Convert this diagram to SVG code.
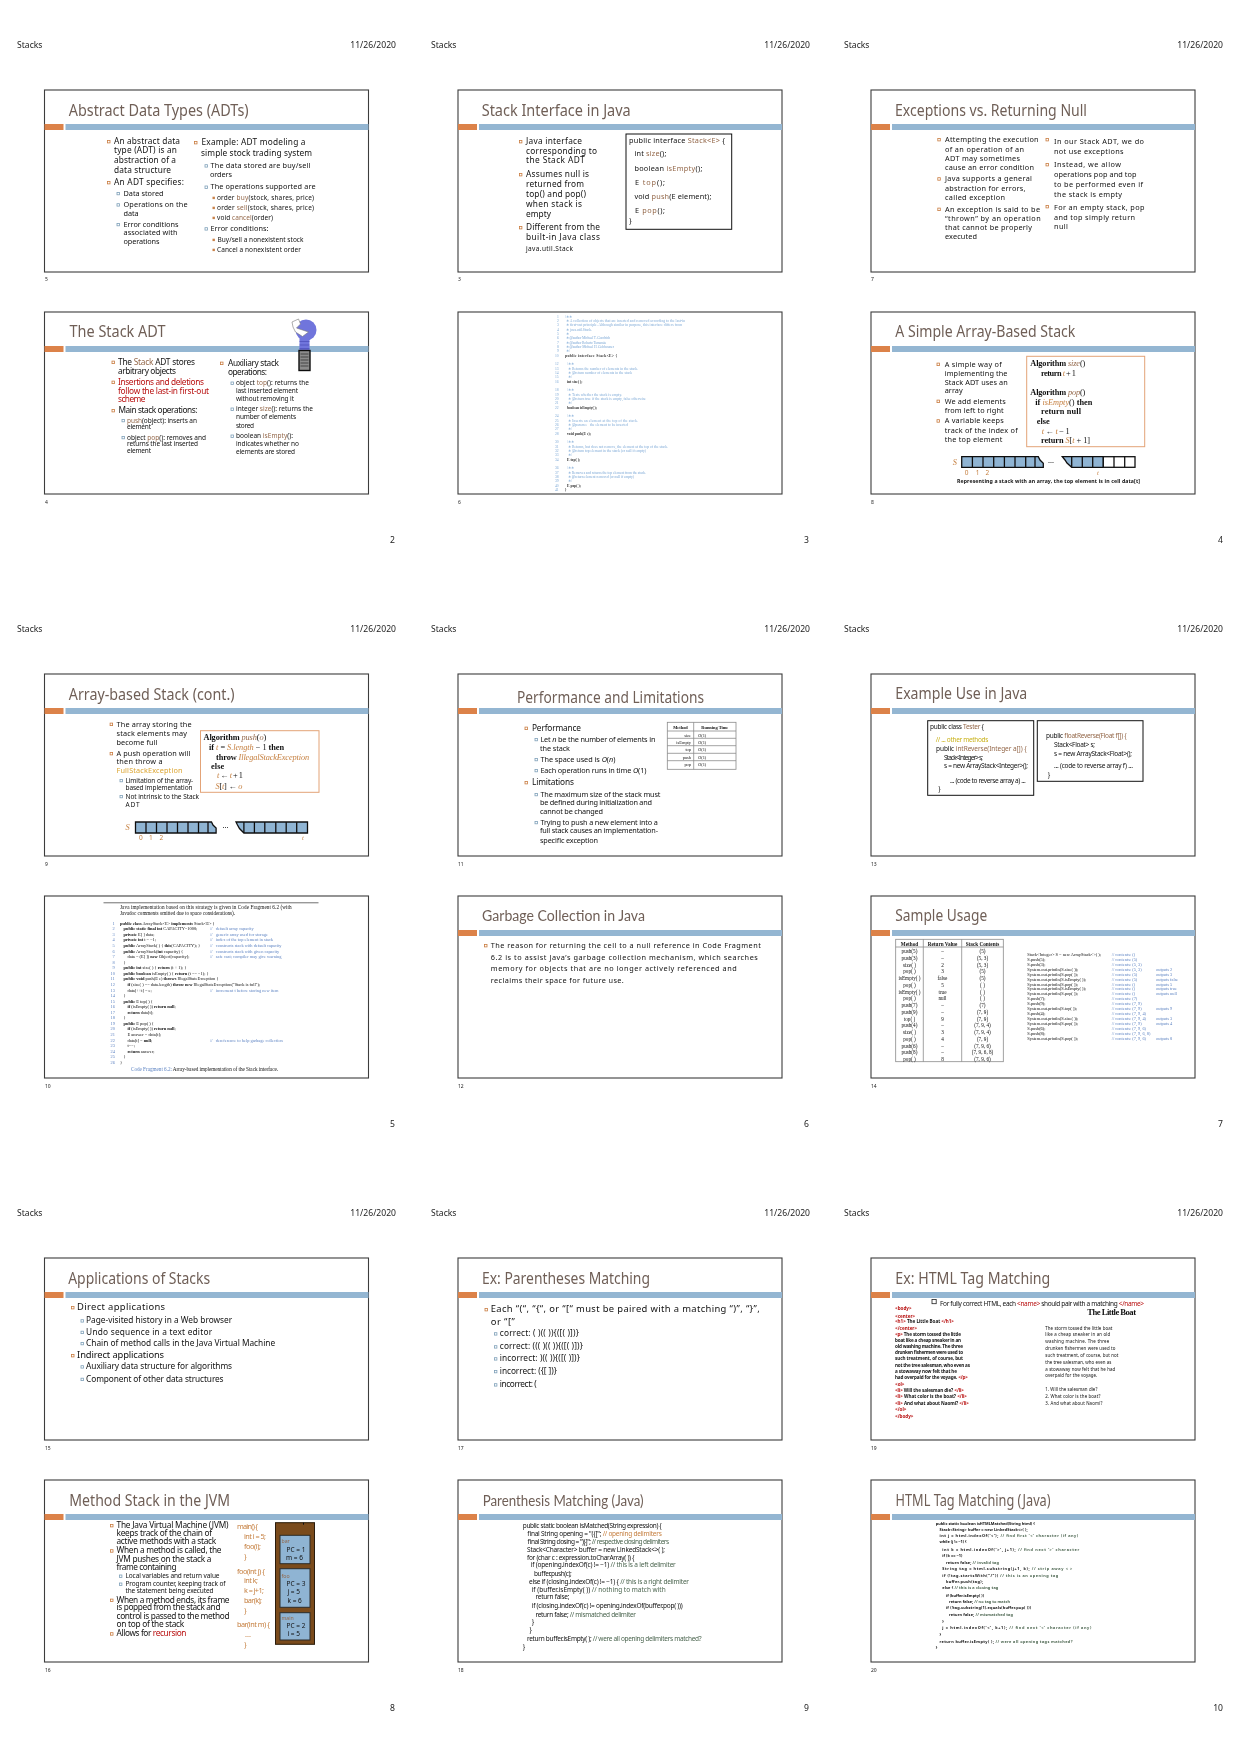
<svg xmlns="http://www.w3.org/2000/svg" width="1240" height="1753" viewBox="0 0 1240 1753">
<style>
text{font-family:"Noto Sans","DejaVu Sans",sans-serif;fill:#111;white-space:pre}
.h{font-size:8.6px;fill:#222}
.n{font-size:5px;fill:#222}
.frame{fill:#fff;stroke:#3c3c3c;stroke-width:1.1}
.t{font-size:16px;fill:#6f5f57}
.t.g{font-family:"Lato","Noto Sans",sans-serif;font-size:14.5px}
.f9{font-size:9.4px}.f8{font-size:8.3px}.f7{font-size:7.3px}.f6{font-size:6.5px}.f5{font-size:5.2px}.f45{font-size:4.6px}.f4{font-size:4.4px}.f3{font-size:3.9px}
.s{font-family:"Liberation Serif",serif}
.m{font-size:3.7px;font-family:"Liberation Serif",serif;fill:#7ea9d6}
.k{fill:#333;font-weight:700}
.b{fill:#5d83c2}
.c{fill:#94684a}
.o{fill:#c57f3f}
.y{fill:#dca531}
.r{fill:#b80f0f}
.gr{fill:#4c6650}
.bo{font-weight:700}
.i{font-style:italic}
.box{fill:#fff;stroke:#111;stroke-width:1}
.obox{fill:#fff;stroke:#e3a377;stroke-width:1}
.cell{fill:#8fb4d3;stroke:#111;stroke-width:1.3}
.wc{fill:#fff;stroke:#111;stroke-width:1.3}
.tb{fill:none;stroke:#8a8a8a;stroke-width:.8}
.fr{fill:#8fb4d3;stroke:#2b2b2b;stroke-width:1}
</style>
<defs>
<filter id="soft" x="0" y="0" width="100%" height="100%"><feGaussianBlur stdDeviation="0.28"/></filter>
<filter id="soft2" x="-5%" y="-5%" width="110%" height="110%"><feGaussianBlur stdDeviation="0.5"/></filter>
<g id="bars"><rect x="0" y="34" width="19" height="6" fill="#dc8249"/><rect x="21" y="34" width="303" height="6" fill="#94b6d2"/></g>
<rect id="b1" x="0" y="-3.6" width="2.5" height="2.5" fill="none" stroke="#c97c40" stroke-width=".8"/>
<rect id="b2" x="0" y="-3.3" width="2.4" height="2.4" fill="none" stroke="#7d9fb8" stroke-width=".8"/>
<rect id="b3" x="0" y="-3" width="2.4" height="2.4" fill="#c9824a"/>
</defs>
<rect width="1240" height="1753" fill="#fff"/>
<g filter="url(#soft)">
<g id="page-headers">
<text class="h" x="17" y="48">Stacks</text><text class="h" x="396" y="48" text-anchor="end">11/26/2020</text>
<text class="h" x="431" y="48">Stacks</text><text class="h" x="810" y="48" text-anchor="end">11/26/2020</text>
<text class="h" x="844" y="48">Stacks</text><text class="h" x="1223" y="48" text-anchor="end">11/26/2020</text>
<text class="h" x="17" y="632">Stacks</text><text class="h" x="396" y="632" text-anchor="end">11/26/2020</text>
<text class="h" x="431" y="632">Stacks</text><text class="h" x="810" y="632" text-anchor="end">11/26/2020</text>
<text class="h" x="844" y="632">Stacks</text><text class="h" x="1223" y="632" text-anchor="end">11/26/2020</text>
<text class="h" x="17" y="1216">Stacks</text><text class="h" x="396" y="1216" text-anchor="end">11/26/2020</text>
<text class="h" x="431" y="1216">Stacks</text><text class="h" x="810" y="1216" text-anchor="end">11/26/2020</text>
<text class="h" x="844" y="1216">Stacks</text><text class="h" x="1223" y="1216" text-anchor="end">11/26/2020</text>
<text class="h" x="395" y="543" text-anchor="end">2</text><text class="h" x="809" y="543" text-anchor="end">3</text><text class="h" x="1223" y="543" text-anchor="end">4</text>
<text class="h" x="395" y="1127" text-anchor="end">5</text><text class="h" x="809" y="1127" text-anchor="end">6</text><text class="h" x="1223" y="1127" text-anchor="end">7</text>
<text class="h" x="395" y="1711" text-anchor="end">8</text><text class="h" x="809" y="1711" text-anchor="end">9</text><text class="h" x="1223" y="1711" text-anchor="end">10</text>
</g>
<g id="slide-numbers">
<text class="n" x="45" y="281">5</text><text class="n" x="458" y="281">3</text><text class="n" x="871" y="281">7</text>
<text class="n" x="45" y="503.5">4</text><text class="n" x="458" y="503.5">6</text><text class="n" x="871" y="503.5">8</text>
<text class="n" x="45" y="865.5">9</text><text class="n" x="458" y="865.5">11</text><text class="n" x="871" y="865.5">13</text>
<text class="n" x="45" y="1087.5">10</text><text class="n" x="458" y="1087.5">12</text><text class="n" x="871" y="1087.5">14</text>
<text class="n" x="45" y="1449.5">15</text><text class="n" x="458" y="1449.5">17</text><text class="n" x="871" y="1449.5">19</text>
<text class="n" x="45" y="1671.5">16</text><text class="n" x="458" y="1671.5">18</text><text class="n" x="871" y="1671.5">20</text>
</g>

<g id="slide-adt" transform="translate(44.5 90)">
<rect class="frame" width="324" height="182"/><use href="#bars"/>
<text class="t" x="24.2" y="26" textLength="180" lengthAdjust="spacingAndGlyphs">Abstract Data Types (ADTs)</text>
<use href="#b1" x="63" y="54"/>
<text class="f8" x="69.5" y="54" textLength="66">An abstract data</text>
<text class="f8" x="69.5" y="63.3" textLength="63">type (ADT) is an</text>
<text class="f8" x="69.5" y="73" textLength="62">abstraction of a</text>
<text class="f8" x="69.5" y="82.7" textLength="57">data structure</text>
<use href="#b1" x="63" y="95"/>
<text class="f8" x="69.5" y="95" textLength="70">An ADT specifies:</text>
<use href="#b2" x="72.5" y="105.7"/><text class="f7" x="79" y="105.7" textLength="40">Data stored</text>
<use href="#b2" x="72.5" y="117"/><text class="f7" x="79" y="117" textLength="64">Operations on the</text>
<text class="f7" x="79" y="125.7" textLength="15">data</text>
<use href="#b2" x="72.5" y="136.7"/><text class="f7" x="79" y="136.7" textLength="55">Error conditions</text>
<text class="f7" x="79" y="145" textLength="54">associated with</text>
<text class="f7" x="79" y="154" textLength="36">operations</text>
<use href="#b1" x="150" y="55"/>
<text class="f8" x="157" y="54.7" textLength="104">Example: ADT modeling a</text>
<text class="f8" x="156.5" y="65.7" textLength="111">simple stock trading system</text>
<use href="#b2" x="160.5" y="78"/><text class="f7" x="166" y="78" textLength="100">The data stored are buy/sell</text>
<text class="f7" x="165.5" y="87" textLength="22">orders</text>
<use href="#b2" x="160.5" y="99.3"/><text class="f7" x="166" y="99.3" textLength="105">The operations supported are</text>
<use href="#b3" x="168" y="109.7"/><text class="f6" x="172.5" y="109.7" textLength="97">order <tspan class="c">buy</tspan>(stock, shares, price)</text>
<use href="#b3" x="168" y="119.7"/><text class="f6" x="172.5" y="119.7" textLength="97">order <tspan class="c">sell</tspan>(stock, shares, price)</text>
<use href="#b3" x="168" y="129.7"/><text class="f6" x="172.5" y="129.7" textLength="56">void <tspan class="c">cancel</tspan>(order)</text>
<use href="#b2" x="160.5" y="141"/><text class="f7" x="166" y="141" textLength="58">Error conditions:</text>
<use href="#b3" x="168" y="151.7"/><text class="f6" x="173" y="151.7" textLength="86">Buy/sell a nonexistent stock</text>
<use href="#b3" x="168" y="161.7"/><text class="f6" x="172.5" y="161.7" textLength="84">Cancel a nonexistent order</text>
</g>

<g id="slide-interface" transform="translate(458 90)">
<rect class="frame" width="324" height="182"/><use href="#bars"/>
<text class="t" x="23.7" y="25.5" textLength="149" lengthAdjust="spacingAndGlyphs">Stack Interface in Java</text>
<use href="#b1" x="61.4" y="54"/>
<text class="f8" x="68" y="54" textLength="56">Java interface</text>
<text class="f8" x="68" y="63.7" textLength="71">corresponding to</text>
<text class="f8" x="68" y="73.3" textLength="58.6">the Stack ADT</text>
<use href="#b1" x="61.4" y="87"/>
<text class="f8" x="68" y="87" textLength="63">Assumes null is</text>
<text class="f8" x="68" y="96.7" textLength="58">returned from</text>
<text class="f8" x="68" y="106.7" textLength="60">top() and pop()</text>
<text class="f8" x="68" y="116.7" textLength="56">when stack is</text>
<text class="f8" x="68" y="126.7" textLength="25">empty</text>
<use href="#b1" x="61.4" y="140"/>
<text class="f8" x="68" y="140" textLength="74">Different from the</text>
<text class="f8" x="68" y="150.3" textLength="74">built-in Java class</text>
<text class="f6" x="68" y="160.7" textLength="47">java.util.Stack</text>
<rect class="box" x="168" y="44" width="105.7" height="95.3"/>
<text class="f7" x="171" y="52.7" textLength="96">public interface <tspan class="c">Stack&lt;E&gt;</tspan> {</text>
<text class="f7" x="176.4" y="66" textLength="32">int <tspan class="c">size</tspan>();</text>
<text class="f7" x="176.4" y="80.7" textLength="68">boolean <tspan class="c">isEmpty</tspan>();</text>
<text class="f7" x="177" y="94.7" textLength="30">E <tspan class="c">top</tspan>();</text>
<text class="f7" x="176.4" y="108.7" textLength="77">void <tspan class="c">push</tspan>(E element);</text>
<text class="f7" x="177" y="123" textLength="30">E <tspan class="c">pop</tspan>();</text>
<text class="f7" x="171" y="133">}</text>
</g>

<g id="slide-exceptions" transform="translate(871 90)">
<rect class="frame" width="324" height="182"/><use href="#bars"/>
<text class="t" x="24" y="25.5" textLength="192" lengthAdjust="spacingAndGlyphs">Exceptions vs. Returning Null</text>
<use href="#b1" x="66.8" y="52"/>
<text class="f7" x="74" y="52" textLength="93.6">Attempting the execution</text>
<text class="f7" x="74" y="61.7" textLength="79">of an operation of an</text>
<text class="f7" x="74" y="70.7" textLength="75">ADT may sometimes</text>
<text class="f7" x="74" y="79.7" textLength="89">cause an error condition</text>
<use href="#b1" x="66.8" y="91.3"/>
<text class="f7" x="74" y="91.3" textLength="87">Java supports a general</text>
<text class="f7" x="74" y="101" textLength="80.5">abstraction for errors,</text>
<text class="f7" x="74" y="110" textLength="60">called exception</text>
<use href="#b1" x="66.8" y="121.7"/>
<text class="f7" x="74" y="121.7" textLength="95">An exception is said to be</text>
<text class="f7" x="74" y="131" textLength="95.7">“thrown” by an operation</text>
<text class="f7" x="74" y="140.3" textLength="87">that cannot be properly</text>
<text class="f7" x="74" y="148.7" textLength="32">executed</text>
<use href="#b1" x="175" y="52"/>
<text class="f7" x="183" y="53.7" textLength="90">In our Stack ADT, we do</text>
<text class="f7" x="183" y="63.7" textLength="69.5">not use exceptions</text>
<use href="#b1" x="175" y="77"/>
<text class="f7" x="183" y="77" textLength="67">Instead, we allow</text>
<text class="f7" x="183" y="87" textLength="82.6">operations pop and top</text>
<text class="f7" x="183" y="96.7" textLength="89">to be performed even if</text>
<text class="f7" x="183" y="106.7" textLength="68">the stack is empty</text>
<use href="#b1" x="175" y="119"/>
<text class="f7" x="183" y="119.7" textLength="90.5">For an empty stack, pop</text>
<text class="f7" x="183" y="129.7" textLength="81">and top simply return</text>
<text class="f7" x="183" y="139.3" textLength="14">null</text>
</g>

<g id="slide-stack-adt" transform="translate(44.5 312)">
<rect class="frame" width="324" height="182"/><use href="#bars"/>
<g id="pez-dispenser">
<ellipse cx="261.5" cy="18" rx="10.5" ry="10.5" fill="#6f74dc"/>
<path d="M247.5 10L254 7L256 12L252 16L264 20L258 24.5L251 20L248.5 15Z" fill="#fff" stroke="#777" stroke-width=".6"/>
<rect x="255" y="26" width="10" height="12.5" fill="#6f74dc"/>
<path d="M255 29.5H265M255 33H265M255 36.5H265" stroke="#4347b0" stroke-width=".6"/>
<rect x="254.5" y="38.5" width="11" height="20" fill="#8c8c8c" stroke="#111" stroke-width="1.4"/>
<path d="M256 42H264M256 45H264M256 48H264M256 51H264M256 54H264" stroke="#333" stroke-width=".8"/>
</g>
<text class="t" x="25" y="25" textLength="96" lengthAdjust="spacingAndGlyphs">The Stack ADT</text>
<use href="#b1" x="67.5" y="52.7"/>
<text class="f8" x="73.5" y="52.7" textLength="77">The <tspan class="c">Stack</tspan> ADT stores</text>
<text class="f8" x="73.5" y="61.7" textLength="58">arbitrary objects</text>
<use href="#b1" x="67.5" y="72.7"/>
<text class="f8 r" x="73.5" y="72.7" textLength="86">Insertions and deletions</text>
<text class="f8 r" x="73.5" y="81.7" textLength="91">follow the last-in first-out</text>
<text class="f8 r" x="73.5" y="89.7" textLength="27.5">scheme</text>
<use href="#b1" x="67.5" y="101"/>
<text class="f8" x="74" y="101" textLength="79">Main stack operations:</text>
<use href="#b2" x="77.5" y="110.7"/><text class="f6" x="82.5" y="110.7" textLength="70"><tspan class="c">push</tspan>(object): inserts an</text>
<text class="f6" x="82.5" y="117.3" textLength="24">element</text>
<use href="#b2" x="77.5" y="127.7"/><text class="f6" x="82.5" y="127.7" textLength="79">object <tspan class="c">pop</tspan>(): removes and</text>
<text class="f6" x="82.5" y="134.3" textLength="71">returns the last inserted</text>
<text class="f6" x="82.5" y="141.3" textLength="24">element</text>
<use href="#b1" x="176" y="53.7"/>
<text class="f8" x="183.5" y="53.7" textLength="51">Auxiliary stack</text>
<text class="f8" x="183.5" y="63.3" textLength="39">operations:</text>
<use href="#b2" x="186.5" y="73.3"/><text class="f6" x="191.5" y="73.3" textLength="73">object <tspan class="c">top</tspan>(): returns the</text>
<text class="f6" x="191.5" y="81.3" textLength="62">last inserted element</text>
<text class="f6" x="191.5" y="89.3" textLength="58">without removing it</text>
<use href="#b2" x="186.5" y="99.3"/><text class="f6" x="191.5" y="99.3" textLength="77">integer <tspan class="c">size</tspan>(): returns the</text>
<text class="f6" x="191.5" y="107.3" textLength="60">number of elements</text>
<text class="f6" x="191.5" y="116.3" textLength="18">stored</text>
<use href="#b2" x="186.5" y="126.3"/><text class="f6" x="191.5" y="126.3" textLength="57">boolean <tspan class="c">isEmpty</tspan>():</text>
<text class="f6" x="191.5" y="134.3" textLength="63">indicates whether no</text>
<text class="f6" x="191.5" y="142.3" textLength="59">elements are stored</text>
</g>

<g id="slide-interface-code" transform="translate(458 312)">
<rect class="frame" width="324" height="182"/>
<g filter="url(#soft2)">
<g id="iface-lines">
<text class="m" x="99" y="5.5">1</text><text class="m" x="107" y="5.5">/∗∗</text>
<text class="m" x="99" y="9.8">2</text><text class="m" x="108" y="9.8" textLength="119">∗ A collection of objects that are inserted and removed according to the last-in</text>
<text class="m" x="99" y="14.2">3</text><text class="m" x="108" y="14.2" textLength="116">∗ first-out principle. Although similar in purpose, this interface differs from</text>
<text class="m" x="99" y="18.5">4</text><text class="m" x="108" y="18.5">∗ java.util.Stack.</text>
<text class="m" x="99" y="22.8">5</text><text class="m" x="108" y="22.8">∗</text>
<text class="m" x="99" y="27.2">6</text><text class="m" x="108" y="27.2" textLength="44">∗ @author Michael T. Goodrich</text>
<text class="m" x="99" y="31.5">7</text><text class="m" x="108" y="31.5" textLength="40">∗ @author Roberto Tamassia</text>
<text class="m" x="99" y="35.8">8</text><text class="m" x="108" y="35.8" textLength="48">∗ @author Michael H. Goldwasser</text>
<text class="m" x="99" y="40.2">9</text><text class="m" x="108" y="40.2">∗/</text>
<text class="m" x="97" y="44.5">10</text><text class="m k" x="107" y="44.5" textLength="52">public interface Stack&lt;E&gt; {</text>
<text class="m" x="97" y="53.2">12</text><text class="m" x="109" y="53.2">/∗∗</text>
<text class="m" x="97" y="57.5">13</text><text class="m" x="110" y="57.5" textLength="70">∗ Returns the number of elements in the stack.</text>
<text class="m" x="97" y="61.8">14</text><text class="m" x="110" y="61.8" textLength="64">∗ @return number of elements in the stack</text>
<text class="m" x="97" y="66.2">15</text><text class="m" x="110" y="66.2">∗/</text>
<text class="m" x="97" y="70.5">16</text><text class="m k" x="109" y="70.5">int size( );</text>
<text class="m" x="97" y="79.2">18</text><text class="m" x="109" y="79.2">/∗∗</text>
<text class="m" x="97" y="83.5">19</text><text class="m" x="110" y="83.5" textLength="54">∗ Tests whether the stack is empty.</text>
<text class="m" x="97" y="87.8">20</text><text class="m" x="110" y="87.8" textLength="78">∗ @return true if the stack is empty, false otherwise</text>
<text class="m" x="97" y="92.2">21</text><text class="m" x="110" y="92.2">∗/</text>
<text class="m" x="97" y="96.5">22</text><text class="m k" x="109" y="96.5" textLength="30">boolean isEmpty( );</text>
<text class="m" x="97" y="105.2">24</text><text class="m" x="109" y="105.2">/∗∗</text>
<text class="m" x="97" y="109.5">25</text><text class="m" x="110" y="109.5" textLength="70">∗ Inserts an element at the top of the stack.</text>
<text class="m" x="97" y="113.8">26</text><text class="m" x="110" y="113.8" textLength="60">∗ @param e   the element to be inserted</text>
<text class="m" x="97" y="118.2">27</text><text class="m" x="110" y="118.2">∗/</text>
<text class="m" x="97" y="122.5">28</text><text class="m k" x="109" y="122.5">void push(E e);</text>
<text class="m" x="97" y="131.2">30</text><text class="m" x="109" y="131.2">/∗∗</text>
<text class="m" x="97" y="135.5">31</text><text class="m" x="110" y="135.5" textLength="100">∗ Returns, but does not remove, the element at the top of the stack.</text>
<text class="m" x="97" y="139.8">32</text><text class="m" x="110" y="139.8" textLength="78">∗ @return top element in the stack (or null if empty)</text>
<text class="m" x="97" y="144.2">33</text><text class="m" x="110" y="144.2">∗/</text>
<text class="m" x="97" y="148.5">34</text><text class="m k" x="109" y="148.5">E top( );</text>
<text class="m" x="97" y="157.2">36</text><text class="m" x="109" y="157.2">/∗∗</text>
<text class="m" x="97" y="161.5">37</text><text class="m" x="110" y="161.5" textLength="78">∗ Removes and returns the top element from the stack.</text>
<text class="m" x="97" y="165.8">38</text><text class="m" x="110" y="165.8" textLength="66">∗ @return element removed (or null if empty)</text>
<text class="m" x="97" y="170.2">39</text><text class="m" x="110" y="170.2">∗/</text>
<text class="m" x="97" y="174.5">40</text><text class="m k" x="109" y="174.5">E pop( );</text>
<text class="m" x="97" y="178.8">41</text><text class="m k" x="107" y="178.8">}</text>
</g>
</g>
</g>

<g id="slide-array-stack" transform="translate(871 312)">
<rect class="frame" width="324" height="182"/><use href="#bars"/>
<text class="t" x="24.3" y="24.5" textLength="180" lengthAdjust="spacingAndGlyphs">A Simple Array-Based Stack</text>
<use href="#b1" x="66" y="54.7"/>
<text class="f7" x="73.7" y="54.7" textLength="57">A simple way of</text>
<text class="f7" x="73.7" y="64" textLength="62.7">implementing the</text>
<text class="f7" x="73.7" y="72.7" textLength="63">Stack ADT uses an</text>
<text class="f7" x="73.7" y="81.3" textLength="18">array</text>
<use href="#b1" x="66" y="91.7"/>
<text class="f7" x="73.7" y="91.7" textLength="61">We add elements</text>
<text class="f7" x="73.7" y="100.7" textLength="59">from left to right</text>
<use href="#b1" x="66" y="111.3"/>
<text class="f7" x="73.7" y="111.3" textLength="59">A variable keeps</text>
<text class="f7" x="73.7" y="120.7" textLength="73">track of the index of</text>
<text class="f7" x="73.7" y="129.7" textLength="57.7">the top element</text>
<rect class="obox" x="155.7" y="44.3" width="118" height="90.4"/>
<text class="f8 s" x="159.3" y="53.7" textLength="55"><tspan class="bo">Algorithm</tspan> <tspan class="i c">size</tspan>()</text>
<text class="f8 s" x="170" y="63.7" textLength="35"><tspan class="bo">return</tspan> <tspan class="i o">t</tspan> + 1</text>
<text class="f8 s" x="159.3" y="82.7" textLength="55"><tspan class="bo">Algorithm</tspan> <tspan class="i c">pop</tspan>()</text>
<text class="f8 s" x="164.3" y="92.7" textLength="57"><tspan class="bo">if</tspan> <tspan class="i o">isEmpty</tspan>() <tspan class="bo">then</tspan></text>
<text class="f8 s" x="170" y="102" textLength="40"><tspan class="bo">return null</tspan></text>
<text class="f8 s bo" x="165.7" y="112" textLength="13">else</text>
<text class="f8 s" x="170.7" y="121.7" textLength="28"><tspan class="i o">t</tspan> ← <tspan class="i o">t</tspan> − 1</text>
<text class="f8 s" x="170" y="131.3" textLength="49"><tspan class="bo">return</tspan> <tspan class="i o">S</tspan>[<tspan class="i o">t</tspan> + 1]</text>
<text class="f8 o i s" x="81.7" y="153">S</text>
<path class="cell" d="M90.7 144.7H167.3L169 148L172.3 151.3V155.3H90.7Z"/>
<path class="cell" d="M101.4 144.7V155.3M112 144.7V155.3M122.7 144.7V155.3M133.4 144.7V155.3M144 144.7V155.3M154.7 144.7V155.3M164 144.7V155.3"/>
<text class="f7" x="177" y="151">...</text>
<path class="cell" d="M191.3 144.7H232.3V155.3H200.7L196 151L194 148Z"/>
<rect class="wc" x="232.3" y="144.7" width="31.7" height="10.6"/>
<path class="cell" d="M200.7 144.7V155.3M211.3 144.7V155.3M221.7 144.7V155.3M243 144.7V155.3M253.7 144.7V155.3"/>
<text class="f6 o" x="93.7" y="163">0</text><text class="f6 o" x="104.7" y="163">1</text><text class="f6 o" x="114.5" y="163">2</text><text class="f6 o i s" x="226" y="163">t</text>
<text class="f5 bo" x="86" y="170.7" textLength="183">Representing a stack with an array, the top element is in cell data[t]</text>
</g>

<g id="slide-array-cont" transform="translate(44.5 674)">
<rect class="frame" width="324" height="182"/><use href="#bars"/>
<text class="t" x="24.3" y="26" textLength="165.7" lengthAdjust="spacingAndGlyphs">Array-based Stack (cont.)</text>
<use href="#b1" x="65.6" y="52.7"/>
<text class="f7" x="72" y="52.7" textLength="75">The array storing the</text>
<text class="f7" x="72" y="62" textLength="70.6">stack elements may</text>
<text class="f7" x="72" y="70.7" textLength="41">become full</text>
<use href="#b1" x="65.6" y="82"/>
<text class="f7" x="72" y="82" textLength="74">A push operation will</text>
<text class="f7" x="72" y="90" textLength="46">then throw a</text>
<text class="f7 y" x="72" y="98.7" textLength="66">FullStackException</text>
<use href="#b2" x="75.5" y="108.7"/><text class="f6" x="81" y="108.7" textLength="67.7">Limitation of the array-</text>
<text class="f6" x="81" y="115.7" textLength="67">based implementation</text>
<use href="#b2" x="75.5" y="124.7"/><text class="f6" x="81" y="124.7" textLength="73.6">Not intrinsic to the Stack</text>
<text class="f6" x="81" y="132.7" textLength="14">ADT</text>
<rect class="obox" x="156" y="56.7" width="118.5" height="61.6"/>
<text class="f8 s" x="159" y="66" textLength="62.7"><tspan class="bo">Algorithm</tspan> <tspan class="i c">push</tspan>(<tspan class="i c">o</tspan>)</text>
<text class="f8 s" x="164.6" y="75.7" textLength="75"><tspan class="bo">if</tspan> <tspan class="i o">t</tspan> = <tspan class="i o">S.length</tspan> − 1 <tspan class="bo">then</tspan></text>
<text class="f8 s" x="171.6" y="85.7" textLength="93"><tspan class="bo">throw</tspan> <tspan class="i o">IllegalStackException</tspan></text>
<text class="f8 s bo" x="166.6" y="94.7" textLength="13">else</text>
<text class="f8 s" x="172.5" y="104.3" textLength="26"><tspan class="i o">t</tspan> ← <tspan class="i o">t</tspan> + 1</text>
<text class="f8 s" x="171" y="114.7" textLength="27"><tspan class="i o">S</tspan>[<tspan class="i o">t</tspan>] ← <tspan class="i o">o</tspan></text>
<text class="f8 o i s" x="81" y="156">S</text>
<path class="cell" d="M91 148H167L168.5 151L171.6 154V159H91Z"/>
<path class="cell" d="M101.5 148V159M112 148V159M122.5 148V159M133 148V159M143.5 148V159M154 148V159M163.5 148V159"/>
<text class="f7" x="178" y="154">...</text>
<path class="cell" d="M191.5 148H263V159H199.4L195 154.5L193 151Z"/>
<path class="cell" d="M199.4 148V159M209.9 148V159M220.3 148V159M231.3 148V159M241.7 148V159M252.2 148V159"/>
<text class="f6 o" x="94.5" y="166.3">0</text><text class="f6 o" x="104.6" y="166.3">1</text><text class="f6 o" x="115" y="166.3">2</text><text class="f6 o i s" x="257.6" y="166.3">t</text>
</g>

<g id="slide-performance" transform="translate(458 674)">
<rect class="frame" width="324" height="182"/><use href="#bars"/>
<text class="t" x="59" y="29.3" textLength="187" lengthAdjust="spacingAndGlyphs">Performance and Limitations</text>
<use href="#b1" x="67" y="56.7"/><text class="f8" x="74" y="56.7" textLength="49">Performance</text>
<use href="#b2" x="77" y="67.7"/><text class="f7" x="82.4" y="67.7" textLength="115">Let <tspan class="i">n</tspan> be the number of elements in</text>
<text class="f7" x="82" y="76.7" textLength="30">the stack</text>
<use href="#b2" x="77" y="87.7"/><text class="f7" x="82.4" y="87.7" textLength="75">The space used is <tspan class="i">O</tspan>(<tspan class="i">n</tspan>)</text>
<use href="#b2" x="77" y="98.7"/><text class="f7" x="82.4" y="98.7" textLength="106">Each operation runs in time <tspan class="i">O</tspan>(1)</text>
<use href="#b1" x="67" y="111"/><text class="f8" x="74" y="111" textLength="42">Limitations</text>
<use href="#b2" x="77" y="122.7"/><text class="f7" x="82.4" y="122.7" textLength="120">The maximum size of the stack must</text>
<text class="f7" x="82" y="130.7" textLength="112">be defined during initialization and</text>
<text class="f7" x="82" y="139.7" textLength="63">cannot be changed</text>
<use href="#b2" x="77" y="150.7"/><text class="f7" x="82.4" y="150.7" textLength="117.5">Trying to push a new element into a</text>
<text class="f7" x="82" y="159.3" textLength="118">full stack causes an implementation-</text>
<text class="f7" x="82" y="168.7" textLength="58">specific exception</text>
<g id="perf-table">
<rect class="tb" x="209.3" y="48.3" width="68.7" height="47"/>
<path class="tb" d="M235.7 48.3V95.3M209.3 57H278M209.3 64.3H278M209.3 71.7H278M209.3 79.3H278M209.3 86.7H278"/>
<text class="f4 s bo" x="222.5" y="55" text-anchor="middle">Method</text><text class="f4 s bo" x="256.8" y="55" text-anchor="middle">Running Time</text>
<text class="f4 s" x="233" y="62.5" text-anchor="end">size</text><text class="f4 s" x="240" y="62.5"><tspan class="i">O</tspan>(1)</text>
<text class="f4 s" x="233" y="69.8" text-anchor="end">isEmpty</text><text class="f4 s" x="240" y="69.8"><tspan class="i">O</tspan>(1)</text>
<text class="f4 s" x="233" y="77.2" text-anchor="end">top</text><text class="f4 s" x="240" y="77.2"><tspan class="i">O</tspan>(1)</text>
<text class="f4 s" x="233" y="84.7" text-anchor="end">push</text><text class="f4 s" x="240" y="84.7"><tspan class="i">O</tspan>(1)</text>
<text class="f4 s" x="233" y="92" text-anchor="end">pop</text><text class="f4 s" x="240" y="92"><tspan class="i">O</tspan>(1)</text>
</g>
</g>

<g id="slide-example" transform="translate(871 674)">
<rect class="frame" width="324" height="182"/><use href="#bars"/>
<text class="t" x="24.3" y="24.5" textLength="132" lengthAdjust="spacingAndGlyphs">Example Use in Java</text>
<rect class="box" x="56.7" y="46.7" width="106" height="74.6"/>
<rect class="box" x="166.3" y="46.7" width="105.7" height="60.6"/>
<text class="f6" x="59" y="54.7" textLength="54">public class <tspan class="c">Tester</tspan> {</text>
<text class="f6" x="64.7" y="68.3" textLength="52.7" style="fill:#c9b21a">// ... other methods</text>
<text class="f6" x="65" y="77.3" textLength="90.7">public <tspan class="c">intReverse(Integer a[]) {</tspan></text>
<text class="f6" x="73" y="86" textLength="39">Stack&lt;Integer&gt; s;</text>
<text class="f6" x="73" y="94" textLength="84">s = new ArrayStack&lt;Integer&gt;();</text>
<text class="f6" x="79" y="108.7" textLength="75.7">... (code to reverse array a) ...</text>
<text class="f6" x="67.3" y="117.3">}</text>
<text class="f6" x="175" y="63.7" textLength="80.7">public <tspan class="c">floatReverse(Float f[]) {</tspan></text>
<text class="f6" x="183" y="72.7" textLength="41">Stack&lt;Float&gt; s;</text>
<text class="f6" x="183" y="81.7" textLength="78">s = new ArrayStack&lt;Float&gt;();</text>
<text class="f6" x="183" y="94.3" textLength="79">... (code to reverse array f) ...</text>
<text class="f6" x="176.7" y="103">}</text>
</g>

<g id="slide-array-code" transform="translate(44.5 896)">
<rect class="frame" width="324" height="182"/>
<rect x="59" y="6" width="215" height="1.4" fill="#999"/>
<g filter="url(#soft2)" class="s">
<text class="f5 s" x="75.5" y="12.5" textLength="171.7">Java implementation based on this strategy is given in Code Fragment 6.2 (with</text>
<text class="f5 s" x="75.5" y="18.7" textLength="115">Javadoc comments omitted due to space considerations).</text>
<text class="f4 s b" x="68" y="28.7">1</text><text class="f4 s" x="75.5" y="28.7"><tspan class="bo">public class</tspan> ArrayStack&lt;E&gt; <tspan class="bo">implements</tspan> Stack&lt;E&gt; {</text>
<text class="f4 s b" x="68" y="34.3">2</text><text class="f4 s" x="79" y="34.3"><tspan class="bo">public static final int</tspan> CAPACITY=1000;</text><text class="f4 s b" x="165.5" y="34.3">//   default array capacity</text>
<text class="f4 s b" x="68" y="39.8">3</text><text class="f4 s" x="79" y="39.8"><tspan class="bo">private</tspan> E[ ] data;</text><text class="f4 s b" x="165.5" y="39.8">//   generic array used for storage</text>
<text class="f4 s b" x="68" y="45.4">4</text><text class="f4 s" x="79" y="45.4"><tspan class="bo">private int</tspan> t = −1;</text><text class="f4 s b" x="165.5" y="45.4">//   index of the top element in stack</text>
<text class="f4 s b" x="68" y="51">5</text><text class="f4 s" x="79" y="51"><tspan class="bo">public</tspan> ArrayStack( ) { <tspan class="bo">this</tspan>(CAPACITY); }</text><text class="f4 s b" x="165.5" y="51">//   constructs stack with default capacity</text>
<text class="f4 s b" x="68" y="56.5">6</text><text class="f4 s" x="79" y="56.5"><tspan class="bo">public</tspan> ArrayStack(<tspan class="bo">int</tspan> capacity) {</text><text class="f4 s b" x="165.5" y="56.5">//   constructs stack with given capacity</text>
<text class="f4 s b" x="68" y="62.1">7</text><text class="f4 s" x="83" y="62.1">data = (E[ ]) <tspan class="bo">new</tspan> Object[capacity];</text><text class="f4 s b" x="165.5" y="62.1">//   safe cast; compiler may give warning</text>
<text class="f4 s b" x="68" y="67.7">8</text><text class="f4 s" x="79" y="67.7">}</text>
<text class="f4 s b" x="68" y="73.2">9</text><text class="f4 s" x="79" y="73.2"><tspan class="bo">public int</tspan> size( ) { <tspan class="bo">return</tspan> (t + 1); }</text>
<text class="f4 s b" x="66" y="78.8">10</text><text class="f4 s" x="79" y="78.8"><tspan class="bo">public boolean</tspan> isEmpty( ) { <tspan class="bo">return</tspan> (t == −1); }</text>
<text class="f4 s b" x="66" y="84.3">11</text><text class="f4 s" x="79" y="84.3"><tspan class="bo">public void</tspan> push(E e) <tspan class="bo">throws</tspan> IllegalStateException {</text>
<text class="f4 s b" x="66" y="89.9">12</text><text class="f4 s" x="83" y="89.9"><tspan class="bo">if</tspan> (size( ) == data.length) <tspan class="bo">throw new</tspan> IllegalStateException("Stack is full");</text>
<text class="f4 s b" x="66" y="95.5">13</text><text class="f4 s" x="83" y="95.5">data[++t] = e;</text><text class="f4 s b" x="165.5" y="95.5">//   increment t before storing new item</text>
<text class="f4 s b" x="66" y="101">14</text><text class="f4 s" x="79" y="101">}</text>
<text class="f4 s b" x="66" y="106.6">15</text><text class="f4 s" x="79" y="106.6"><tspan class="bo">public</tspan> E top( ) {</text>
<text class="f4 s b" x="66" y="112.2">16</text><text class="f4 s" x="83" y="112.2"><tspan class="bo">if</tspan> (isEmpty( )) <tspan class="bo">return null</tspan>;</text>
<text class="f4 s b" x="66" y="117.7">17</text><text class="f4 s" x="83" y="117.7"><tspan class="bo">return</tspan> data[t];</text>
<text class="f4 s b" x="66" y="123.3">18</text><text class="f4 s" x="79" y="123.3">}</text>
<text class="f4 s b" x="66" y="128.8">19</text><text class="f4 s" x="79" y="128.8"><tspan class="bo">public</tspan> E pop( ) {</text>
<text class="f4 s b" x="66" y="134.4">20</text><text class="f4 s" x="83" y="134.4"><tspan class="bo">if</tspan> (isEmpty( )) <tspan class="bo">return null</tspan>;</text>
<text class="f4 s b" x="66" y="140">21</text><text class="f4 s" x="83" y="140">E answer = data[t];</text>
<text class="f4 s b" x="66" y="145.5">22</text><text class="f4 s" x="83" y="145.5">data[t] = <tspan class="bo">null</tspan>;</text><text class="f4 s b" x="165.5" y="145.5">//   dereference to help garbage collection</text>
<text class="f4 s b" x="66" y="151.1">23</text><text class="f4 s" x="83" y="151.1">t−−;</text>
<text class="f4 s b" x="66" y="156.6">24</text><text class="f4 s" x="83" y="156.6"><tspan class="bo">return</tspan> answer;</text>
<text class="f4 s b" x="66" y="162.2">25</text><text class="f4 s" x="79" y="162.2">}</text>
<text class="f4 s b" x="66" y="167.7">26</text><text class="f4 s" x="75.5" y="167.7">}</text>
<text class="f5 s" x="86.5" y="175" textLength="147"><tspan class="b">Code Fragment 6.2:</tspan> Array-based implementation of the Stack interface.</text>
</g>
</g>

<g id="slide-garbage" transform="translate(458 896)">
<rect class="frame" width="324" height="182"/><use href="#bars"/>
<text class="t g" x="24" y="25" textLength="163" lengthAdjust="spacingAndGlyphs">Garbage Collection in Java</text>
<use href="#b1" x="26.5" y="52"/>
<text class="f7" x="32.8" y="52" textLength="270">The reason for returning the cell to a null reference in Code Fragment</text>
<text class="f7" x="32.8" y="64" textLength="267">6.2 is to assist Java’s garbage collection mechanism, which searches</text>
<text class="f7" x="32.8" y="75" textLength="246">memory for objects that are no longer actively referenced and</text>
<text class="f7" x="32.8" y="87" textLength="133">reclaims their space for future use.</text>
</g>

<g id="slide-sample" transform="translate(871 896)">
<rect class="frame" width="324" height="182"/><use href="#bars"/>
<text class="t" x="24.3" y="24.5" textLength="92" lengthAdjust="spacingAndGlyphs">Sample Usage</text>
<g filter="url(#soft2)">
<rect class="tb" x="24.7" y="43.3" width="107.6" height="122.4"/>
<path class="tb" d="M52.3 43.3V165.7M90.7 43.3V165.7M24.7 51H132.3"/>
<text class="f5 s bo" x="38.5" y="49.5" text-anchor="middle">Method</text><text class="f5 s bo" x="71.5" y="49.5" text-anchor="middle">Return Value</text><text class="f5 s bo" x="111.5" y="49.5" text-anchor="middle">Stack Contents</text>
<text class="f5 s" x="38.5" y="57" text-anchor="middle">push(5)</text><text class="f5 s" x="71.5" y="57" text-anchor="middle">–</text><text class="f5 s" x="111.5" y="57" text-anchor="middle">(5)</text>
<text class="f5 s" x="38.5" y="63.8" text-anchor="middle">push(3)</text><text class="f5 s" x="71.5" y="63.8" text-anchor="middle">–</text><text class="f5 s" x="111.5" y="63.8" text-anchor="middle">(5, 3)</text>
<text class="f5 s" x="38.5" y="70.5" text-anchor="middle">size( )</text><text class="f5 s" x="71.5" y="70.5" text-anchor="middle">2</text><text class="f5 s" x="111.5" y="70.5" text-anchor="middle">(5, 3)</text>
<text class="f5 s" x="38.5" y="77.3" text-anchor="middle">pop( )</text><text class="f5 s" x="71.5" y="77.3" text-anchor="middle">3</text><text class="f5 s" x="111.5" y="77.3" text-anchor="middle">(5)</text>
<text class="f5 s" x="38.5" y="84" text-anchor="middle">isEmpty( )</text><text class="f5 s" x="71.5" y="84" text-anchor="middle">false</text><text class="f5 s" x="111.5" y="84" text-anchor="middle">(5)</text>
<text class="f5 s" x="38.5" y="90.8" text-anchor="middle">pop( )</text><text class="f5 s" x="71.5" y="90.8" text-anchor="middle">5</text><text class="f5 s" x="111.5" y="90.8" text-anchor="middle">( )</text>
<text class="f5 s" x="38.5" y="97.5" text-anchor="middle">isEmpty( )</text><text class="f5 s" x="71.5" y="97.5" text-anchor="middle">true</text><text class="f5 s" x="111.5" y="97.5" text-anchor="middle">( )</text>
<text class="f5 s" x="38.5" y="104.3" text-anchor="middle">pop( )</text><text class="f5 s" x="71.5" y="104.3" text-anchor="middle">null</text><text class="f5 s" x="111.5" y="104.3" text-anchor="middle">( )</text>
<text class="f5 s" x="38.5" y="111" text-anchor="middle">push(7)</text><text class="f5 s" x="71.5" y="111" text-anchor="middle">–</text><text class="f5 s" x="111.5" y="111" text-anchor="middle">(7)</text>
<text class="f5 s" x="38.5" y="117.8" text-anchor="middle">push(9)</text><text class="f5 s" x="71.5" y="117.8" text-anchor="middle">–</text><text class="f5 s" x="111.5" y="117.8" text-anchor="middle">(7, 9)</text>
<text class="f5 s" x="38.5" y="124.5" text-anchor="middle">top( )</text><text class="f5 s" x="71.5" y="124.5" text-anchor="middle">9</text><text class="f5 s" x="111.5" y="124.5" text-anchor="middle">(7, 9)</text>
<text class="f5 s" x="38.5" y="131.3" text-anchor="middle">push(4)</text><text class="f5 s" x="71.5" y="131.3" text-anchor="middle">–</text><text class="f5 s" x="111.5" y="131.3" text-anchor="middle">(7, 9, 4)</text>
<text class="f5 s" x="38.5" y="138" text-anchor="middle">size( )</text><text class="f5 s" x="71.5" y="138" text-anchor="middle">3</text><text class="f5 s" x="111.5" y="138" text-anchor="middle">(7, 9, 4)</text>
<text class="f5 s" x="38.5" y="144.8" text-anchor="middle">pop( )</text><text class="f5 s" x="71.5" y="144.8" text-anchor="middle">4</text><text class="f5 s" x="111.5" y="144.8" text-anchor="middle">(7, 9)</text>
<text class="f5 s" x="38.5" y="151.5" text-anchor="middle">push(6)</text><text class="f5 s" x="71.5" y="151.5" text-anchor="middle">–</text><text class="f5 s" x="111.5" y="151.5" text-anchor="middle">(7, 9, 6)</text>
<text class="f5 s" x="38.5" y="158.3" text-anchor="middle">push(8)</text><text class="f5 s" x="71.5" y="158.3" text-anchor="middle">–</text><text class="f5 s" x="111.5" y="158.3" text-anchor="middle">(7, 9, 6, 8)</text>
<text class="f5 s" x="38.5" y="165" text-anchor="middle">pop( )</text><text class="f5 s" x="71.5" y="165" text-anchor="middle">8</text><text class="f5 s" x="111.5" y="165" text-anchor="middle">(7, 9, 6)</text>
<g id="sample-code">
<text class="f4 s" x="156.3" y="59.7">Stack&lt;Integer&gt; S = new ArrayStack&lt;&gt;( );</text><text class="f4 s b" x="240.7" y="59.7">// contents: ()</text>
<text class="f4 s" x="156.3" y="64.7">S.push(5);</text><text class="f4 s b" x="240.7" y="64.7">// contents: (5)</text>
<text class="f4 s" x="156.3" y="69.6">S.push(3);</text><text class="f4 s b" x="240.7" y="69.6">// contents: (5, 3)</text>
<text class="f4 s" x="156.3" y="74.6">System.out.println(S.size( ));</text><text class="f4 s b" x="240.7" y="74.6">// contents: (5, 3)</text><text class="f4 s b" x="285" y="74.6">outputs 2</text>
<text class="f4 s" x="156.3" y="79.6">System.out.println(S.pop( ));</text><text class="f4 s b" x="240.7" y="79.6">// contents: (5)</text><text class="f4 s b" x="285" y="79.6">outputs 3</text>
<text class="f4 s" x="156.3" y="84.5">System.out.println(S.isEmpty( ));</text><text class="f4 s b" x="240.7" y="84.5">// contents: (5)</text><text class="f4 s b" x="285" y="84.5">outputs false</text>
<text class="f4 s" x="156.3" y="89.5">System.out.println(S.pop( ));</text><text class="f4 s b" x="240.7" y="89.5">// contents: ()</text><text class="f4 s b" x="285" y="89.5">outputs 5</text>
<text class="f4 s" x="156.3" y="94.4">System.out.println(S.isEmpty( ));</text><text class="f4 s b" x="240.7" y="94.4">// contents: ()</text><text class="f4 s b" x="285" y="94.4">outputs true</text>
<text class="f4 s" x="156.3" y="99.4">System.out.println(S.pop( ));</text><text class="f4 s b" x="240.7" y="99.4">// contents: ()</text><text class="f4 s b" x="285" y="99.4">outputs null</text>
<text class="f4 s" x="156.3" y="104.4">S.push(7);</text><text class="f4 s b" x="240.7" y="104.4">// contents: (7)</text>
<text class="f4 s" x="156.3" y="109.3">S.push(9);</text><text class="f4 s b" x="240.7" y="109.3">// contents: (7, 9)</text>
<text class="f4 s" x="156.3" y="114.3">System.out.println(S.top( ));</text><text class="f4 s b" x="240.7" y="114.3">// contents: (7, 9)</text><text class="f4 s b" x="285" y="114.3">outputs 9</text>
<text class="f4 s" x="156.3" y="119.2">S.push(4);</text><text class="f4 s b" x="240.7" y="119.2">// contents: (7, 9, 4)</text>
<text class="f4 s" x="156.3" y="124.2">System.out.println(S.size( ));</text><text class="f4 s b" x="240.7" y="124.2">// contents: (7, 9, 4)</text><text class="f4 s b" x="285" y="124.2">outputs 3</text>
<text class="f4 s" x="156.3" y="129.2">System.out.println(S.pop( ));</text><text class="f4 s b" x="240.7" y="129.2">// contents: (7, 9)</text><text class="f4 s b" x="285" y="129.2">outputs 4</text>
<text class="f4 s" x="156.3" y="134.1">S.push(6);</text><text class="f4 s b" x="240.7" y="134.1">// contents: (7, 9, 6)</text>
<text class="f4 s" x="156.3" y="139.1">S.push(8);</text><text class="f4 s b" x="240.7" y="139.1">// contents: (7, 9, 6, 8)</text>
<text class="f4 s" x="156.3" y="144">System.out.println(S.pop( ));</text><text class="f4 s b" x="240.7" y="144">// contents: (7, 9, 6)</text><text class="f4 s b" x="285" y="144">outputs 8</text>
</g>
</g>
</g>

<g id="slide-applications" transform="translate(44.5 1258)">
<rect class="frame" width="324" height="182"/><use href="#bars"/>
<text class="t" x="23.7" y="26" textLength="142" lengthAdjust="spacingAndGlyphs">Applications of Stacks</text>
<use href="#b1" x="27" y="52"/><text class="f9" x="32.6" y="52" textLength="88">Direct applications</text>
<use href="#b2" x="36.5" y="65"/><text class="f8" x="41.6" y="65" textLength="146">Page-visited history in a Web browser</text>
<use href="#b2" x="36.5" y="76.5"/><text class="f8" x="41.6" y="76.5" textLength="126">Undo sequence in a text editor</text>
<use href="#b2" x="36.5" y="87.7"/><text class="f8" x="41.6" y="87.7" textLength="189">Chain of method calls in the Java Virtual Machine</text>
<use href="#b1" x="27" y="100"/><text class="f9" x="32.6" y="100" textLength="87">Indirect applications</text>
<use href="#b2" x="36.5" y="111"/><text class="f8" x="41.6" y="111" textLength="146">Auxiliary data structure for algorithms</text>
<use href="#b2" x="36.5" y="123.5"/><text class="f8" x="41.6" y="123.5" textLength="137.5">Component of other data structures</text>
</g>

<g id="slide-parens" transform="translate(458 1258)">
<rect class="frame" width="324" height="182"/><use href="#bars"/>
<text class="t" x="24" y="26" textLength="168" lengthAdjust="spacingAndGlyphs">Ex: Parentheses Matching</text>
<use href="#b1" x="27" y="54"/><text class="f9" x="32.8" y="54" textLength="269">Each “(“, “{“, or “[“ must be paired with a matching “)”, “}”,</text>
<text class="f9" x="32.8" y="67" textLength="24">or “[”</text>
<use href="#b2" x="36.5" y="78"/><text class="f8" x="41.8" y="78" textLength="79">correct: ( )(( )){([( )])}</text>
<use href="#b2" x="36.5" y="91"/><text class="f8" x="41.8" y="91" textLength="83">correct: ((( )(( )){([( )])}</text>
<use href="#b2" x="36.5" y="103"/><text class="f8" x="41.8" y="103" textLength="80">incorrect: )(( )){([( )])}</text>
<use href="#b2" x="36.5" y="115.7"/><text class="f8" x="41.8" y="115.7" textLength="57">incorrect: ({[ ])}</text>
<use href="#b2" x="36.5" y="129"/><text class="f8" x="41.8" y="129" textLength="37">incorrect: (</text>
</g>

<g id="slide-html" transform="translate(871 1258)">
<rect class="frame" width="324" height="182"/><use href="#bars"/>
<text class="t" x="24.3" y="26" textLength="155" lengthAdjust="spacingAndGlyphs">Ex: HTML Tag Matching</text>
<rect x="61" y="41.5" width="4.2" height="4.2" fill="none" stroke="#222" stroke-width=".8"/>
<text class="f6" x="69" y="47.7" textLength="204">For fully correct HTML, each <tspan class="r">&lt;name&gt;</tspan> should pair with a matching <tspan class="r">&lt;/name&gt;</tspan></text>
<g id="html-source">
<text class="f45 bo r" x="24" y="52">&lt;body&gt;</text>
<text class="f45 bo r" x="24" y="59.7">&lt;center&gt;</text>
<text class="f45 bo" x="24" y="65.3" textLength="59"><tspan class="r">&lt;h1&gt;</tspan> The Little Boat <tspan class="r">&lt;/h1&gt;</tspan></text>
<text class="f45 bo r" x="24" y="72">&lt;/center&gt;</text>
<text class="f45 bo" x="24" y="78" textLength="66"><tspan class="r">&lt;p&gt;</tspan> The storm tossed the little</text>
<text class="f45 bo" x="24" y="84" textLength="66">boat like a cheap sneaker in an</text>
<text class="f45 bo" x="24" y="90" textLength="68">old washing machine. The three</text>
<text class="f45 bo" x="24" y="96" textLength="68">drunken fishermen were used to</text>
<text class="f45 bo" x="24" y="102" textLength="68">such treatment, of course, but</text>
<text class="f45 bo" x="24" y="108.7" textLength="75">not the tree salesman, who even as</text>
<text class="f45 bo" x="24" y="115" textLength="62">a stowaway now felt that he</text>
<text class="f45 bo" x="24" y="121.3" textLength="73">had overpaid for the voyage. <tspan class="r">&lt;/p&gt;</tspan></text>
<text class="f45 bo r" x="24" y="128">&lt;ol&gt;</text>
<text class="f45 bo" x="24" y="134" textLength="69"><tspan class="r">&lt;li&gt;</tspan> Will the salesman die? <tspan class="r">&lt;/li&gt;</tspan></text>
<text class="f45 bo" x="24" y="140" textLength="72"><tspan class="r">&lt;li&gt;</tspan> What color is the boat? <tspan class="r">&lt;/li&gt;</tspan></text>
<text class="f45 bo" x="24" y="146.7" textLength="74"><tspan class="r">&lt;li&gt;</tspan> And what about Naomi? <tspan class="r">&lt;/li&gt;</tspan></text>
<text class="f45 bo r" x="24" y="153.3">&lt;/ol&gt;</text>
<text class="f45 bo r" x="24" y="160">&lt;/body&gt;</text>
</g>
<g id="html-rendered">
<text class="s bo" x="216.3" y="57.3" font-size="8.6" textLength="48.7">The Little Boat</text>
<text class="f4" x="174.3" y="72" textLength="67">The storm tossed the little boat</text>
<text class="f4" x="174.3" y="78" textLength="65">like a cheap sneaker in an old</text>
<text class="f4" x="174.3" y="84.7" textLength="64">washing machine. The three</text>
<text class="f4" x="174.3" y="92" textLength="70">drunken fishermen were used to</text>
<text class="f4" x="174.3" y="98.7" textLength="73">such treatment, of course, but not</text>
<text class="f4" x="174.3" y="106" textLength="66">the tree salesman, who even as</text>
<text class="f4" x="174.3" y="112.7" textLength="70">a stowaway now felt that he had</text>
<text class="f4" x="174.3" y="119.3" textLength="52">overpaid for the voyage.</text>
<text class="f4" x="174.3" y="133" textLength="52">1. Will the salesman die?</text>
<text class="f4" x="174.3" y="140.3" textLength="55">2. What color is the boat?</text>
<text class="f4" x="174.3" y="147" textLength="57">3. And what about Naomi?</text>
</g>
</g>

<g id="slide-jvm" transform="translate(44.5 1480)">
<rect class="frame" width="324" height="182"/><use href="#bars"/>
<text class="t" x="24.8" y="26" textLength="160.7" lengthAdjust="spacingAndGlyphs">Method Stack in the JVM</text>
<use href="#b1" x="66" y="48"/><text class="f8" x="72" y="48" textLength="112">The Java Virtual Machine (JVM)</text>
<text class="f8" x="72" y="56" textLength="95.7">keeps track of the chain of</text>
<text class="f8" x="72" y="64" textLength="99.7">active methods with a stack</text>
<use href="#b1" x="66" y="73.3"/><text class="f8" x="72" y="73.3" textLength="105">When a method is called, the</text>
<text class="f8" x="72" y="82" textLength="95">JVM pushes on the stack a</text>
<text class="f8" x="72" y="89.7" textLength="60">frame containing</text>
<use href="#b2" x="75" y="98.3"/><text class="f6" x="81" y="98.3" textLength="94">Local variables and return value</text>
<use href="#b2" x="75" y="106.3"/><text class="f6" x="81" y="106.3" textLength="100">Program counter, keeping track of</text>
<text class="f6" x="81" y="113.3" textLength="88">the statement being executed</text>
<use href="#b1" x="66" y="122.7"/><text class="f8" x="72" y="122.7" textLength="113">When a method ends, its frame</text>
<text class="f8" x="72" y="130.3" textLength="104">is popped from the stack and</text>
<text class="f8" x="72" y="139" textLength="113">control is passed to the method</text>
<text class="f8" x="72" y="146.7" textLength="67.7">on top of the stack</text>
<use href="#b1" x="66" y="156.3"/><text class="f8" x="72" y="156.3" textLength="70">Allows for <tspan class="r">recursion</tspan></text>
<g id="jvm-code">
<text class="f7 o" x="192.5" y="49.3" textLength="21">main() {</text>
<text class="f7 o" x="199.5" y="59.3" textLength="22">int i = 5;</text>
<text class="f7 o" x="199.5" y="69.3" textLength="17">foo(i);</text>
<text class="f7 o" x="199.5" y="79.3">}</text>
<text class="f7 o" x="192.5" y="94" textLength="28">foo(int j) {</text>
<text class="f7 o" x="199.5" y="103.3" textLength="14">int k;</text>
<text class="f7 o" x="199.5" y="113.3" textLength="20">k = j+1;</text>
<text class="f7 o" x="199.5" y="123.3" textLength="18">bar(k);</text>
<text class="f7 o" x="199.5" y="132.7">}</text>
<text class="f7 o" x="192.5" y="147.3" textLength="33">bar(int m) {</text>
<text class="f7 o" x="200.5" y="156.7">...</text>
<text class="f7 o" x="199.5" y="166.7">}</text>
</g>
<g id="jvm-stack">
<rect x="231" y="42.7" width="39" height="121.6" fill="#7a4c1b" stroke="#2a1a08" stroke-width="1"/>
<rect x="258.5" y="42.7" width="1" height="2" fill="#111"/>
<rect class="fr" x="235.5" y="55.3" width="30" height="28.4"/>
<rect class="fr" x="235.5" y="88.7" width="30" height="38.6"/>
<rect class="fr" x="235.5" y="132.7" width="30" height="27.3"/>
<text class="f5 c" x="237" y="63.3">bar</text>
<text class="f6" x="242" y="71.7">PC = 1</text>
<text class="f6" x="241.5" y="80">m = 6</text>
<text class="f5 c" x="237" y="97.7">foo</text>
<text class="f6" x="242" y="106.3">PC = 3</text>
<text class="f6" x="243" y="114.3">j = 5</text>
<text class="f6" x="243" y="122.7">k = 6</text>
<text class="f5 c" x="237" y="140">main</text>
<text class="f6" x="242" y="147.7">PC = 2</text>
<text class="f6" x="243" y="156">i = 5</text>
</g>
</g>

<g id="slide-parens-java" transform="translate(458 1480)">
<rect class="frame" width="324" height="182"/><use href="#bars"/>
<text class="t g" x="24.7" y="26" textLength="161" lengthAdjust="spacingAndGlyphs">Parenthesis Matching (Java)</text>
<text class="f6" x="64.8" y="48" textLength="139">public static boolean isMatched(String expression) {</text>
<text class="f6" x="69" y="56" textLength="134.5">final String opening = "({["; <tspan class="o">// opening delimiters</tspan></text>
<text class="f6" x="69" y="63.7" textLength="141.6">final String closing = ")}]"; <tspan class="gr">// respective closing delimiters</tspan></text>
<text class="f6" x="69" y="71.7" textLength="138">Stack&lt;Character&gt; buffer = new LinkedStack&lt;&gt;( );</text>
<text class="f6" x="69" y="80" textLength="107.6">for (char c : expression.toCharArray( )) {</text>
<text class="f6" x="72.8" y="87.3" textLength="145">if (opening.indexOf(c) != −1) <tspan class="gr">// this is a left delimiter</tspan></text>
<text class="f6" x="76" y="95.7" textLength="37.8">buffer.push(c);</text>
<text class="f6" x="71" y="103.7" textLength="160">else if (closing.indexOf(c) != −1) { <tspan class="gr">// this is a right delimiter</tspan></text>
<text class="f6" x="73.7" y="111.7" textLength="134">if (buffer.isEmpty( )) <tspan class="gr">// nothing to match with</tspan></text>
<text class="f6" x="77.5" y="119.3" textLength="34">return false;</text>
<text class="f6" x="73.7" y="127.7" textLength="151">if (closing.indexOf(c) != opening.indexOf(buffer.pop( )))</text>
<text class="f6" x="77.5" y="137" textLength="100.5">return false; <tspan class="gr">// mismatched delimiter</tspan></text>
<text class="f6" x="73.7" y="143.7">}</text>
<text class="f6" x="71.4" y="152.3">}</text>
<text class="f6" x="69" y="161" textLength="174.6">return buffer.isEmpty( ); <tspan class="gr">// were all opening delimiters matched?</tspan></text>
<text class="f6" x="64.8" y="169.3">}</text>
</g>

<g id="slide-html-java" transform="translate(871 1480)">
<rect class="frame" width="324" height="182"/><use href="#bars"/>
<text class="t" x="24.6" y="26" textLength="155" lengthAdjust="spacingAndGlyphs">HTML Tag Matching (Java)</text>
<text class="f3 bo" x="64.7" y="44.7" textLength="99">public static boolean isHTMLMatched(String html) {</text>
<text class="f3 bo" x="68.5" y="51.3" textLength="88">Stack&lt;String&gt; buffer = new LinkedStack&lt;&gt;( );</text>
<text class="f3 bo" x="68.5" y="57.3" textLength="138.7">int j = html.indexOf('&lt;'); <tspan class="gr">// find first ’&lt;’ character (if any)</tspan></text>
<text class="f3 bo" x="68.5" y="63.3" textLength="27">while (j != −1) {</text>
<text class="f3 bo" x="71.3" y="70.7" textLength="137">int k = html.indexOf('&gt;', j+1); <tspan class="gr">// find next ’&gt;’ character</tspan></text>
<text class="f3 bo" x="71.3" y="76.7" textLength="20">if (k == −1)</text>
<text class="f3 bo" x="75" y="84" textLength="53">return false; <tspan class="gr">// invalid tag</tspan></text>
<text class="f3 bo" x="71.3" y="90" textLength="130">String tag = html.substring(j+1, k); <tspan class="gr">// strip away &lt; &gt;</tspan></text>
<text class="f3 bo" x="71.3" y="96.7" textLength="116">if (!tag.startsWith("/")) <tspan class="gr">// this is an opening tag</tspan></text>
<text class="f3 bo" x="75" y="103.3" textLength="37">buffer.push(tag);</text>
<text class="f3 bo" x="71.3" y="109.3" textLength="56">else { <tspan class="gr">// this is a closing tag</tspan></text>
<text class="f3 bo" x="75" y="116.7" textLength="38">if (buffer.isEmpty( ))</text>
<text class="f3 bo" x="78" y="122.7" textLength="61">return false; <tspan class="gr">// no tag to match</tspan></text>
<text class="f3 bo" x="75" y="129.3" textLength="85">if (!tag.substring(1).equals(buffer.pop( )))</text>
<text class="f3 bo" x="78" y="135.7" textLength="64">return false; <tspan class="gr">// mismatched tag</tspan></text>
<text class="f3 bo" x="71.3" y="142.7">}</text>
<text class="f3 bo" x="71.3" y="149.3" textLength="149">j = html.indexOf('&lt;', k+1); <tspan class="gr">// find next ’&lt;’ character (if any)</tspan></text>
<text class="f3 bo" x="68.5" y="155.7">}</text>
<text class="f3 bo" x="68.5" y="162.7" textLength="133">return buffer.isEmpty( ); <tspan class="gr">// were all opening tags matched?</tspan></text>
<text class="f3 bo" x="64.7" y="169.3">}</text>
</g>
</g>
</svg>
